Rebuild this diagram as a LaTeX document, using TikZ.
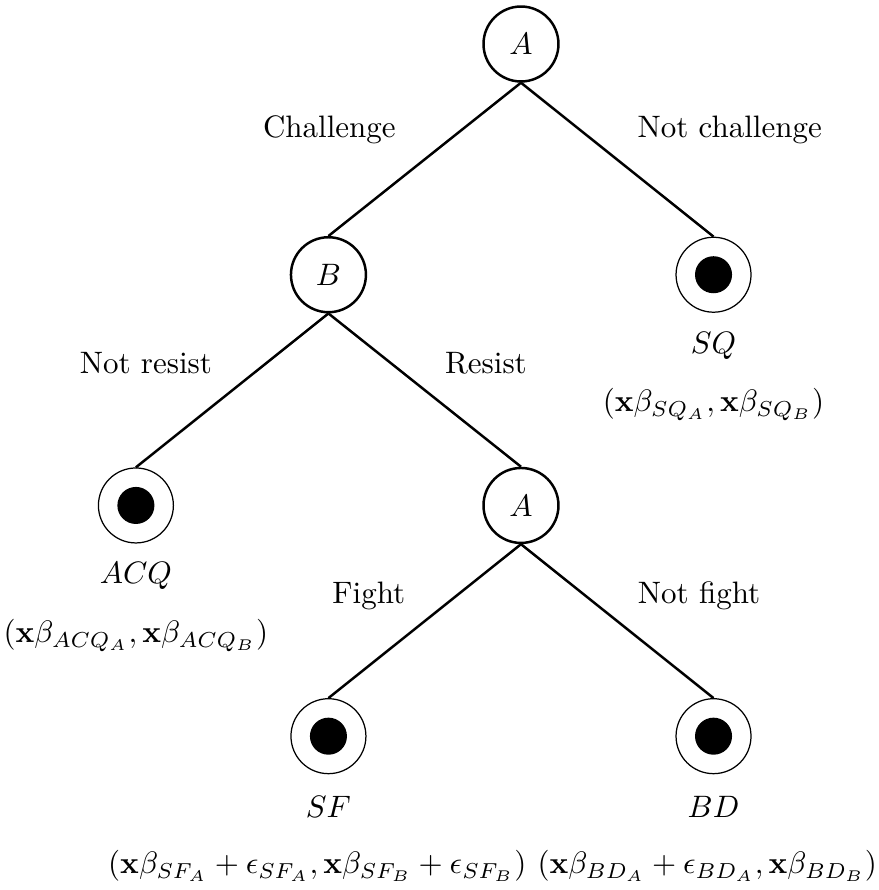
\documentclass[tikz,border=0pt]{standalone}
\usepackage{amsmath, amssymb}
\usetikzlibrary{positioning}

\begin{document}
\begin{tikzpicture}[x=2.183cm, y=2.616cm,
  decision/.style={circle, draw, thick, minimum size=0.85cm, inner sep=0pt},
  outcome/.style={circle, draw, minimum size=0.85cm, inner sep=0pt,
    path picture={\fill (path picture bounding box.center) circle (0.21cm);}},
  branch/.style={thick}]

\useasboundingbox (-5.907cm,0.499cm) rectangle (4.048cm,-9.592cm);

% decision nodes
\node[decision] (A1) at (0,0) {$A$};
\node[decision] (B) at (-1,-1) {$B$};
\node[decision] (A2) at (0,-2) {$A$};

% terminal nodes
\node[outcome] (SQ) at (1,-1) {};
\node[outcome] (ACQ) at (-2,-2) {};
\node[outcome] (SF) at (-1,-3) {};
\node[outcome] (BD) at (1,-3) {};

% branches
\draw[branch] (A1.south) -- (B.north);
\draw[branch] (A1.south) -- (SQ.north);
\draw[branch] (B.south) -- (ACQ.north);
\draw[branch] (B.south) -- (A2.north);
\draw[branch] (A2.south) -- (SF.north);
\draw[branch] (A2.south) -- (BD.north);

% action labels
\node (lChal) at (-0.995,-0.373) {Challenge};
\node (lNChal) at (1.084,-0.373) {Not challenge};
\node (lNRes) at (-1.948,-1.383) {Not resist};
\node (lRes) at (-0.182,-1.383) {Resist};
\node (lFight) at (-0.79,-2.393) {Fight};
\node (lNFight) at (0.925,-2.393) {Not fight};

% outcome names
\node (nSQ) at (1,-1.307) {$SQ$};
\node (nACQ) at (-2,-2.307) {$ACQ$};
\node (nSF) at (-1,-3.307) {$SF$};
\node (nBD) at (1,-3.307) {$BD$};

% payoffs
\node (pSQ) at (1,-1.563) {$(\mathbf{x}\beta_{SQ_A}, \mathbf{x}\beta_{SQ_B})$};
\node (pACQ) at (-2,-2.563) {$(\mathbf{x}\beta_{ACQ_A}, \mathbf{x}\beta_{ACQ_B})$};
\node[anchor=east, inner sep=0pt] (pSF) at (0.031,-3.563)
  {$(\mathbf{x}\beta_{SF_A} + \epsilon_{SF_A}, \mathbf{x}\beta_{SF_B} + \epsilon_{SF_B})$};
\node[anchor=west, inner sep=0pt] (pBD) at (0.083,-3.563)
  {$(\mathbf{x}\beta_{BD_A} + \epsilon_{BD_A}, \mathbf{x}\beta_{BD_B})$};

\end{tikzpicture}
\end{document}
